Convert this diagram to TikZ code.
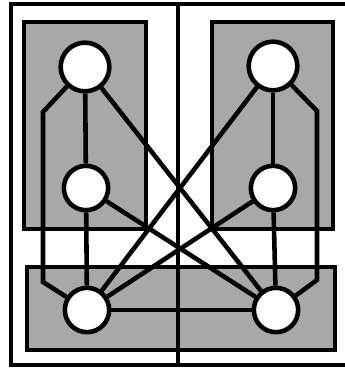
\documentclass[tikz,border=0pt]{standalone}
\usepackage{tikz}

\begin{document}
\begin{tikzpicture}[
      x=0.03cm, y=-0.03cm,
      frame/.style={line width=3pt},
      zone/.style={draw, fill=black!34, line width=3.9pt},
      link/.style={line width=3.9pt},
      unit/.style={circle, draw, fill=white, line width=3.9pt,
                   inner sep=0pt, minimum size=1.33cm},
      head/.style={unit, minimum size=1.46cm}
    ]
    \useasboundingbox (0,0) rectangle (345,369);

    % outer frame (open at the right)
    \draw[frame] (345,4) -- (11,4) -- (11,365) -- (345,365);

    % shaded groups
    \draw[zone] (24,22) rectangle (146,229);
    \draw[zone] (212,22) rectangle (333,229);
    \draw[zone] (27,267) rectangle (335,350);

    % divider
    \draw[frame] (178,4) -- (178,365);

    % vertices
    \node[head] (tl) at (85,67) {};
    \node[unit] (ml) at (86,188) {};
    \node[unit] (bl) at (87,310) {};
    \node[head] (tr) at (273,66) {};
    \node[unit] (mr) at (273,188) {};
    \node[unit] (br) at (276,310) {};

    \coordinate (lt) at (43,112);
    \coordinate (lb) at (43,282);
    \coordinate (rt) at (317,111);
    \coordinate (rb) at (317,280);

    % edges
    \draw[link] (tl) -- (ml);
    \draw[link] (ml) -- (bl);
    \draw[link] (tr) -- (mr);
    \draw[link] (mr) -- (br);
    \draw[link] (bl) -- (br);
    \draw[link] (tl) -- (lt) -- (lb) -- (bl);
    \draw[link] (tr) -- (rt) -- (rb) -- (br);
    \draw[link] (tl) -- (br);
    \draw[link] (tr) -- (bl);
    \draw[link] (ml) -- (br);
    \draw[link] (mr) -- (bl);

  \end{tikzpicture}
\end{document}
